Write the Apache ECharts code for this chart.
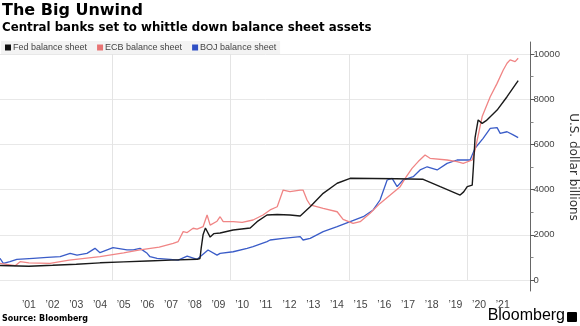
<!DOCTYPE html>
<html>
<head>
<meta charset="utf-8">
<script src="https://cdn.jsdelivr.net/npm/echarts@6.0.0/dist/echarts.min.js"></script>
<style>
html,body{margin:0;padding:0;background:#fff;}
#chart{width:580px;height:326px;}
</style>
</head>
<body>
<div id="chart"></div>
<script>
// ---- data (decimal years, USD billions) ----
const fedDates = [2000.28,2001.5,2002.5,2003.5,2004.5,2005.5,2006.5,2007.5,2008.6,2008.72,2008.77,2008.85,2008.95,2009.02,2009.15,2009.3,2009.57,2010.12,2010.84,2011.13,2011.55,2011.98,2012.52,2012.95,2013.37,2013.92,2014.51,2015.06,2016.0,2017.0,2018.14,2018.86,2019.7,2019.85,2020.0,2020.21,2020.26,2020.33,2020.46,2020.63,2020.8,2021.26,2021.68,2022.15];
const fedValues = [640,610,650,700,760,800,840,880,915,950,1400,2000,2300,2250,1900,2050,2080,2210,2300,2580,2876,2900,2876,2830,3240,3835,4280,4500,4490,4480,4455,4130,3760,3900,4130,4200,5000,6300,7080,6930,7050,7520,8110,8820];

const ecbDates = [2000.28,2000.92,2001.13,2001.5,2002.39,2003.2,2004.5,2005.5,2006.19,2007.0,2007.59,2007.8,2008.01,2008.18,2008.43,2008.6,2008.85,2009.02,2009.15,2009.44,2009.57,2009.7,2010.12,2010.5,2010.96,2011.38,2011.68,2011.98,2012.23,2012.52,2012.95,2013.07,2013.24,2013.37,2013.92,2014.51,2014.76,2015.18,2015.48,2015.9,2016.32,2016.75,2017.17,2017.38,2017.67,2017.93,2018.22,2018.43,2019.15,2019.57,2019.83,2020.21,2020.33,2020.63,2020.97,2021.26,2021.52,2021.68,2021.81,2022.02,2022.15];
const ecbValues = [740,634,810,760,740,880,1030,1200,1330,1450,1620,1700,2140,2100,2290,2250,2360,2876,2430,2600,2800,2580,2580,2550,2655,2876,3100,3240,3980,3910,3980,3980,3540,3320,3170,3020,2680,2510,2580,2950,3390,3760,4130,4500,4940,5240,5530,5385,5310,5240,5160,5310,5750,7230,8110,8700,9290,9590,9740,9660,9810];

const bojDates = [2000.28,2000.42,2000.7,2000.99,2001.68,2002.27,2002.82,2003.24,2003.53,2003.95,2004.29,2004.5,2005.05,2005.64,2005.9,2006.19,2006.49,2006.61,2006.91,2007.46,2007.8,2008.18,2008.6,2009.06,2009.44,2009.57,2010.12,2010.71,2010.96,2011.55,2011.68,2012.23,2012.95,2013.07,2013.37,2013.92,2014.51,2015.06,2015.61,2016.03,2016.32,2016.62,2016.83,2017.04,2017.29,2017.72,2018.01,2018.31,2018.73,2019.15,2019.57,2020.12,2020.33,2020.67,2020.97,2021.26,2021.39,2021.68,2021.94,2022.15];
const bojValues = [960,740,810,915,960,1000,1030,1180,1100,1180,1400,1210,1430,1330,1330,1400,1180,1030,960,915,880,1060,915,1330,1100,1180,1250,1400,1475,1700,1770,1845,1920,1770,1845,2140,2360,2580,2800,3100,3540,4425,4500,4130,4425,4570,4870,5010,4870,5160,5310,5310,5830,6270,6710,6740,6490,6560,6420,6300];

const seriesNames = ['Fed balance sheet','ECB balance sheet','BOJ balance sheet'];
const yearTicks = [2001,2002,2003,2004,2005,2006,2007,2008,2009,2010,2011,2012,2013,2014,2015,2016,2017,2018,2019,2020,2021];
const gridYears = [2005,2010,2015,2020];

const pairs = (d, v) => d.map((x, i) => [x, v[i]]);
const chart = echarts.init(document.getElementById('chart'));
const FONT = 'DejaVu Sans';
const TICKFONT = 'Liberation Sans';

chart.setOption({
  animation: false,
  backgroundColor: '#fff',
  textStyle: {fontFamily: FONT},
  title: [
    {text: 'The Big Unwind', left: 2, top: 3, padding: 0, textStyle: {fontSize: 16, fontWeight: 'bold', color: '#000', fontFamily: FONT}},
    {text: 'Central banks set to whittle down balance sheet assets', left: 2, top: 22, padding: 0, textStyle: {fontSize: 11.8, fontWeight: 'bold', color: '#000', fontFamily: FONT}},
    {text: 'Source: Bloomberg', left: 2, top: 315, padding: 0, textStyle: {fontSize: 8, fontWeight: 'bold', color: '#000', fontFamily: FONT}}
  ],
  legend: {
    data: seriesNames,
    left: 1, top: 41,
    icon: 'rect', itemWidth: 6, itemHeight: 6, itemGap: 10,
    padding: [2, 4, 2, 4],
    backgroundColor: '#f3f3f3',
    textStyle: {fontSize: 9, color: '#444', padding: [0,0,0,-3], fontFamily: TICKFONT}
  },
  grid: [
    {left: 0, right: 49.5, top: 54, bottom: 46, outerBoundsMode: 'none', containLabel: false},
    {left: 0, right: 49.5, top: 42, bottom: 35, outerBoundsMode: 'none', containLabel: false}
  ],
  xAxis: [
    {
      type: 'value', gridIndex: 0, min: 2000.28, max: 2022.67,
      axisLine: {show: false}, axisTick: {show: false}, splitLine: {show: false},
      axisLabel: {
        customValues: yearTicks.map(y => y + 0.5),
        formatter: v => '\u2019' + String(Math.floor(v) - 2000).padStart(2, '0'),
        fontSize: 10.5, color: '#444', margin: 20, fontFamily: TICKFONT
      }
    },
    {type: 'value', gridIndex: 1, min: 0, max: 1, show: false}
  ],
  yAxis: [
    {
      type: 'value', gridIndex: 0, position: 'right', min: 0, max: 10000, interval: 2000,
      axisLine: {show: false},
      axisTick: {show: true, length: 4, lineStyle: {color: '#555'}},
      minorTick: {show: true, splitNumber: 2, length: 3, lineStyle: {color: '#888'}},
      splitLine: {show: true, lineStyle: {color: '#e8e8e8', width: 1}},
      axisLabel: {fontSize: 9.5, color: '#444', margin: 3, fontFamily: TICKFONT, formatter: v => String(v)},
      name: 'U.S. dollar billions', nameLocation: 'middle', nameRotate: -90, nameGap: 37,
      nameMoveOverlap: false,
      nameTextStyle: {fontSize: 12, color: '#333', fontFamily: FONT}
    },
    {
      type: 'value', gridIndex: 1, position: 'right', min: 0, max: 1,
      axisLine: {show: true, onZero: false, lineStyle: {color: '#666', width: 1}},
      axisTick: {show: false}, axisLabel: {show: false}, splitLine: {show: false}
    }
  ],
  series: [
    {type: 'line', name: seriesNames[2], data: pairs(bojDates, bojValues), showSymbol: false, z: 3,
     color: '#2f4fc4', lineStyle: {width: 1.3, color: '#3a5cc8'},
     markLine: {
        silent: true, symbol: 'none', label: {show: false}, z: 1,
        lineStyle: {color: '#e4e4e4', width: 1, type: 'solid'},
        emphasis: {disabled: true},
        data: gridYears.map(y => ({xAxis: y}))
     }},
    {type: 'line', name: seriesNames[1], data: pairs(ecbDates, ecbValues), showSymbol: false, z: 3,
     color: '#e87474', lineStyle: {width: 1.3, color: '#f08585'}},
    {type: 'line', name: seriesNames[0], data: pairs(fedDates, fedValues), showSymbol: false, z: 4,
     color: '#111', lineStyle: {width: 1.4, color: '#1a1a1a'}}
  ],
  graphic: [
    {type: 'text', right: 15, top: 308, style: {text: 'Bloomberg', fontSize: 16, fontFamily: 'Liberation Sans', fill: '#000'}},
    {type: 'rect', right: 3, top: 312, shape: {width: 10, height: 10, r: 1}, style: {fill: '#000'}}
  ]
});
</script>
</body>
</html>
